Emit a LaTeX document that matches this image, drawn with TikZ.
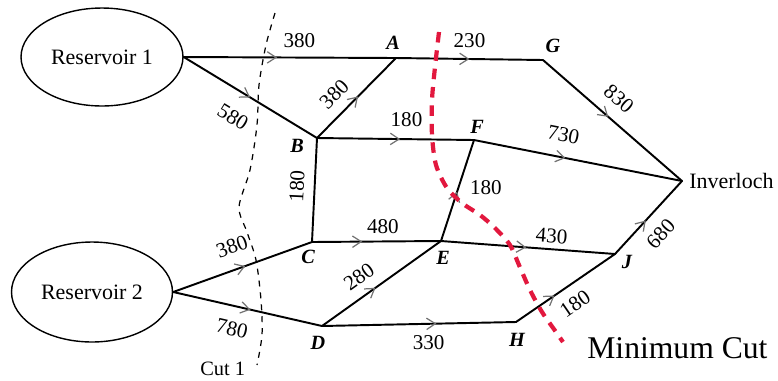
\documentclass[tikz,border=0pt]{standalone}
\usepackage{fontspec}
\setmainfont{Liberation Serif}
\usepackage{tikz}
\usetikzlibrary{shapes.geometric, arrows.meta, positioning, decorations.markings}
\definecolor{cutred}{RGB}{226,24,62}

\begin{document}
\begin{tikzpicture}[x=0.02cm, y=-0.02cm,
    reservoir/.style={ellipse, draw, line width=0.8pt, minimum width=3.24cm, minimum height=1.96cm, inner sep=0pt, font=\fontsize{12.5}{14}\selectfont},
    pipe/.style={draw, line width=1.1pt, line cap=round, line join=round},
    flow/.style={postaction={decorate, decoration={markings, mark=at position #1 with {\arrow[black!55, line width=0.7pt]{Straight Barb[length=5pt, width=6.5pt]}}}}},
    qty/.style={font=\fontsize{12}{14}\selectfont, inner sep=1pt},
    vname/.style={font=\fontsize{11.5}{13}\selectfont\bfseries\itshape, inner sep=0pt},
    cutone/.style={line width=0.7pt, dash pattern=on 3.4pt off 3.4pt},
    mincut/.style={cutred, line width=2.4pt, dash pattern=on 6pt off 4.5pt}]

    \useasboundingbox (0,0) rectangle (778,380);

    \node [reservoir] (res1) at (102,57) {Reservoir 1};
    \node [reservoir, minimum width=3.22cm, minimum height=2cm] (res2) at (92,292) {Reservoir 2};

    \coordinate (A) at (396,58);
    \coordinate (G) at (543,60);
    \coordinate (B) at (317,138);
    \coordinate (F) at (474,140);
    \coordinate (C) at (312,242);
    \coordinate (E) at (441,241);
    \coordinate (D) at (322,326);
    \coordinate (H) at (516,322);
    \coordinate (J) at (615,254);
    \coordinate (inv) at (682,181);

    \node [anchor=west, inner sep=0pt, font=\fontsize{12.5}{14}\selectfont] (invname) at (689,181) {Inverloch};

    \node [vname] (lA) at (393,43) {A};
    \node [vname] (lG) at (553,46) {G};
    \node [vname] (lB) at (297,146) {B};
    \node [vname] (lF) at (477,127) {F};
    \node [vname] (lC) at (308,257) {C};
    \node [vname] (lE) at (443,258) {E};
    \node [vname] (lD) at (318,343) {D};
    \node [vname] (lH) at (517,340) {H};
    \node [vname] (lJ) at (627,262) {J};

    \draw [pipe, flow=0.44] (res1.east) -- node[qty, above=4pt, pos=0.545]{380} (A);
    \draw [pipe, flow=0.5] (res1.east) -- node[qty, sloped, below=9pt, pos=0.47]{580} (B);
    \draw [pipe, flow=0.52] (B) -- node[qty, sloped, above=5pt, pos=0.385]{380} (A);
    \draw [pipe, flow=0.5] (A) -- node[qty, above=4.8pt, pos=0.5]{230} (G);
    \draw [pipe, flow=0.53] (B) -- node[qty, above=5.3pt, pos=0.57]{180} (F);
    \draw [pipe, flow=0.47] (G) -- node[qty, sloped, above=6pt, pos=0.45]{830} (inv);
    \draw [pipe, flow=0.44] (F) -- node[qty, sloped, above=7pt, pos=0.41]{730} (inv);
    \draw [pipe] (C) -- node[qty, sloped, above=4.5pt, pos=0.53]{180} (B);
    \draw [pipe, flow=0.49] (E) -- node[qty, right=5pt, pos=0.53]{180} (F);
    \draw [pipe, flow=0.39] (C) -- node[qty, above=2.8pt, pos=0.55]{480} (E);
    \draw [pipe, flow=0.52] (res2.east) -- node[qty, sloped, above=7.5pt, pos=0.48]{380} (C);
    \draw [pipe, flow=0.52] (res2.east) -- node[qty, sloped, below=7.3pt, pos=0.43]{780} (D);
    \draw [pipe, flow=0.45] (D) -- node[qty, sloped, above=4.8pt, pos=0.40]{280} (E);
    \draw [pipe, flow=0.59] (D) -- node[qty, below=5.3pt, pos=0.55]{330} (H);
    \draw [pipe, flow=0.49] (E) -- node[qty, sloped, above=2pt, pos=0.63]{430} (J);
    \draw [pipe, flow=0.39] (H) -- node[qty, sloped, below=5pt, pos=0.49]{180} (J);
    \draw [pipe, flow=0.46] (J) -- node[qty, sloped, below=5.9pt, pos=0.46]{680} (inv);

    \draw [cutone] plot[smooth] coordinates {(275,13) (266,45) (259,85) (257,125) (250,170) (239,207) (247,232) (256,260) (261,300) (262,335) (257,365)};
    \node [anchor=base west, inner sep=0pt, font=\fontsize{11.6}{13}\selectfont] (cutlbl) at (200,375) {Cut 1};

    \draw [mincut] plot[smooth] coordinates {(439,32) (435,67) (432,100) (432,135) (436,165) (447,188) (462,203) (480,215) (495,228) (510,245) (519,265) (530,290) (542,312) (556,332) (563,342)};
    \node [anchor=base west, inner sep=0pt, font=\fontsize{18}{20}\selectfont] (minlbl) at (587,358) {Minimum Cut};
\end{tikzpicture}
\end{document}
